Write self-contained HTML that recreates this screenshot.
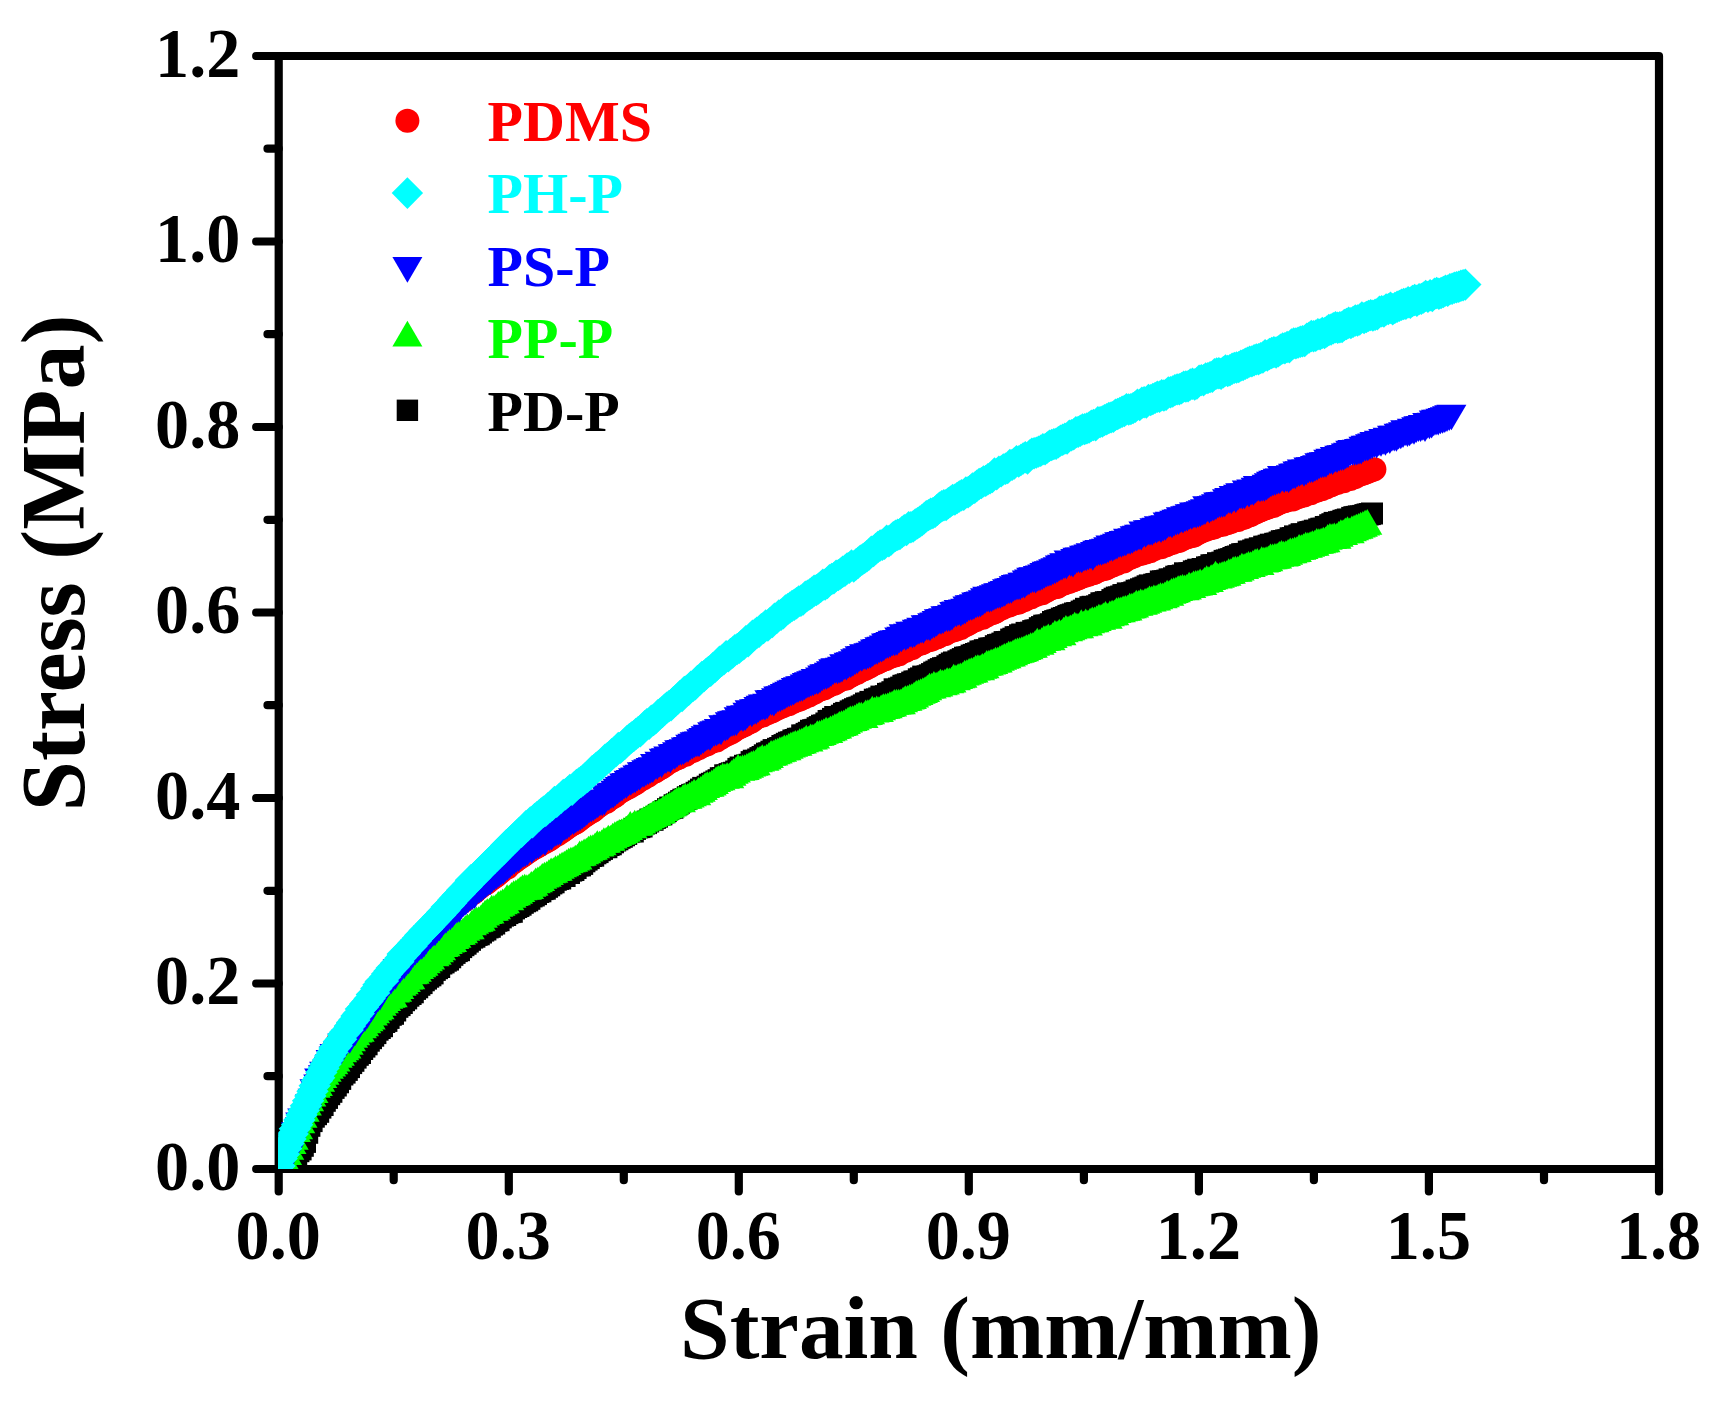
<!DOCTYPE html>
<html lang="en"><head><meta charset="utf-8"><title>Stress-strain curves</title>
<style>
html,body{margin:0;padding:0;background:#fff;}
body{width:1722px;height:1406px;overflow:hidden;}
svg{display:block;}
text{font-family:"Liberation Serif",serif;font-weight:bold;}
.tick{font-size:68.2px;fill:#000;}
.title{font-size:89.5px;fill:#000;}
.leg{font-size:58px;}
.ax{stroke:#000;stroke-width:8.2;stroke-linecap:round;stroke-linejoin:round;fill:none;}
</style></head><body>
<svg width="1722" height="1406" viewBox="0 0 1722 1406">
<rect width="1722" height="1406" fill="#fff"/>

<g class="ax">
<path d="M278.7 56.0H1659.0V1169.0H278.7Z"/>
<path d="M278.7 1169.0h-22.5M278.7 983.5h-22.5M278.7 798.0h-22.5M278.7 612.5h-22.5M278.7 427.0h-22.5M278.7 241.5h-22.5M278.7 56.0h-22.5M278.7 1076.2h-11.2M278.7 890.8h-11.2M278.7 705.2h-11.2M278.7 519.8h-11.2M278.7 334.2h-11.2M278.7 148.7h-11.2M278.7 1169.0v22.5M508.8 1169.0v22.5M738.8 1169.0v22.5M968.8 1169.0v22.5M1198.9 1169.0v22.5M1428.9 1169.0v22.5M1659.0 1169.0v22.5M393.7 1169.0v11.2M623.8 1169.0v11.2M853.8 1169.0v11.2M1083.9 1169.0v11.2M1313.9 1169.0v11.2M1544.0 1169.0v11.2"/>
</g>
<g class="tick">
<text transform="translate(240.3 1189.8) scale(1 1.03)" text-anchor="end">0.0</text>
<text transform="translate(240.3 1004.3) scale(1 1.03)" text-anchor="end">0.2</text>
<text transform="translate(240.3 818.8) scale(1 1.03)" text-anchor="end">0.4</text>
<text transform="translate(240.3 633.3) scale(1 1.03)" text-anchor="end">0.6</text>
<text transform="translate(240.3 447.8) scale(1 1.03)" text-anchor="end">0.8</text>
<text transform="translate(240.3 262.3) scale(1 1.03)" text-anchor="end">1.0</text>
<text transform="translate(240.3 76.8) scale(1 1.03)" text-anchor="end">1.2</text>
<text transform="translate(278.2 1259.3) scale(1 1.03)" text-anchor="middle">0.0</text>
<text transform="translate(508.2 1259.3) scale(1 1.03)" text-anchor="middle">0.3</text>
<text transform="translate(738.3 1259.3) scale(1 1.03)" text-anchor="middle">0.6</text>
<text transform="translate(968.3 1259.3) scale(1 1.03)" text-anchor="middle">0.9</text>
<text transform="translate(1198.4 1259.3) scale(1 1.03)" text-anchor="middle">1.2</text>
<text transform="translate(1428.4 1259.3) scale(1 1.03)" text-anchor="middle">1.5</text>
<text transform="translate(1658.5 1259.3) scale(1 1.03)" text-anchor="middle">1.8</text>
</g>
<text class="title" style="font-size:89.2px" x="1000.8" y="1357.7" text-anchor="middle">Strain (mm/mm)</text>
<text class="title" style="font-size:90.2px" transform="translate(83.5 562.8) rotate(-90)" text-anchor="middle">Stress (MPa)</text>
<defs>
<clipPath id="plotclip"><rect x="278.2" y="56.0" width="1380.8" height="1113.0"/></clipPath>
<marker id="m-red" markerUnits="userSpaceOnUse" markerWidth="40" markerHeight="40" refX="0" refY="0" viewBox="-20 -20 40 40" overflow="visible" fill="#ff0000"><circle r="12.0"/></marker>
<marker id="m-cyan" markerUnits="userSpaceOnUse" markerWidth="40" markerHeight="40" refX="0" refY="0" viewBox="-20 -20 40 40" overflow="visible" fill="#00ffff"><path d="M0 -16.2L16.2 0L0 16.2L-16.2 0Z"/></marker>
<marker id="m-blue" markerUnits="userSpaceOnUse" markerWidth="40" markerHeight="40" refX="0" refY="0" viewBox="-20 -20 40 40" overflow="visible" fill="#0000ff"><path d="M-15.0 -12.85H15.0L0 12.85Z"/></marker>
<marker id="m-green" markerUnits="userSpaceOnUse" markerWidth="40" markerHeight="40" refX="0" refY="0" viewBox="-20 -20 40 40" overflow="visible" fill="#00ff00"><path d="M-15.0 12.85H15.0L0 -12.85Z"/></marker>
<marker id="m-black" markerUnits="userSpaceOnUse" markerWidth="40" markerHeight="40" refX="0" refY="0" viewBox="-20 -20 40 40" overflow="visible" fill="#000000"><rect x="-11.0" y="-11.0" width="22.0" height="22.0"/></marker>
</defs>
<g clip-path="url(#plotclip)">
<polyline fill="none" stroke="none" marker-start="url(#m-black)" marker-mid="url(#m-black)" marker-end="url(#m-black)" points="285.2,1181.5 287.4,1175.1 289.6,1168.9 291.8,1163.3 294.0,1158.7 296.2,1154.1 298.4,1151.2 300.6,1149.4 302.8,1145.8 305.0,1141.9 307.2,1132.8 309.4,1125.8 311.6,1121.1 313.8,1116.7 316.0,1114.2 318.2,1111.8 320.4,1107.6 322.6,1105.0 324.8,1100.8 327.0,1097.9 329.2,1094.2 331.4,1091.8 333.6,1087.9 335.8,1085.5 338.0,1082.3 340.2,1078.9 342.4,1074.5 344.6,1072.6 346.8,1069.9 349.0,1067.1 351.2,1063.1 353.4,1060.8 355.6,1057.6 357.8,1054.8 360.0,1053.0 362.2,1049.0 364.4,1046.6 366.6,1044.3 368.8,1040.7 371.0,1038.2 373.2,1035.7 375.4,1033.1 377.6,1029.7 379.8,1028.0 382.0,1026.2 384.2,1022.0 386.4,1020.9 388.6,1017.9 390.8,1014.8 393.0,1013.8 395.2,1010.5 397.4,1006.8 399.6,1005.1 401.8,1003.0 404.0,1000.2 406.2,998.4 408.4,995.7 410.6,994.0 412.8,992.3 415.0,988.9 417.2,987.3 419.4,984.8 421.6,983.1 423.8,980.3 426.0,978.6 428.2,976.7 430.4,975.3 432.6,973.4 434.8,969.9 437.0,968.2 439.2,967.0 441.4,963.5 443.6,962.4 445.8,960.7 448.0,959.6 450.2,957.3 452.4,954.8 454.6,952.9 456.8,951.1 459.0,950.2 461.2,947.1 463.4,945.2 465.6,943.7 467.8,941.6 470.0,939.8 472.2,937.6 474.4,936.7 476.6,934.9 478.8,934.3 481.0,932.5 483.2,930.6 485.4,929.5 487.6,927.4 489.8,926.8 492.0,924.6 494.2,923.5 496.4,920.8 498.6,920.2 500.8,917.4 503.0,915.6 505.2,915.0 507.4,913.1 509.6,912.1 511.8,911.8 514.0,908.4 516.2,907.0 518.4,906.0 520.6,904.7 522.8,902.8 525.0,901.3 527.2,900.4 529.4,898.8 531.6,896.4 533.8,895.5 536.0,894.1 538.2,892.0 540.4,891.3 542.6,889.1 544.8,888.7 547.0,886.8 549.2,885.3 551.4,883.4 553.6,882.3 555.8,879.8 558.0,878.9 560.2,878.5 562.4,875.6 564.6,876.0 566.8,873.0 569.0,873.0 571.2,870.6 573.4,870.0 575.6,868.0 577.8,865.4 580.0,865.4 582.2,863.9 584.4,861.3 586.6,859.6 588.8,858.1 591.0,856.0 593.2,855.7 595.4,853.3 597.6,852.1 599.8,850.2 602.0,848.9 604.2,847.1 606.4,847.2 608.6,845.0 610.8,844.3 613.0,842.3 615.2,840.5 617.4,839.3 619.6,837.8 621.8,836.8 624.0,835.3 626.2,834.0 628.4,832.1 630.6,831.2 632.8,831.5 635.0,828.9 637.2,827.4 639.4,827.1 641.6,826.5 643.8,823.6 646.0,823.1 648.2,821.5 650.4,819.6 652.6,819.8 654.8,818.0 657.0,816.7 659.2,814.9 661.4,814.3 663.6,812.3 665.8,811.1 668.0,809.1 670.2,807.6 672.4,807.8 674.6,805.2 676.8,804.3 679.0,802.7 681.2,801.1 683.4,799.7 685.6,799.1 687.8,797.2 690.0,796.0 692.2,794.9 694.4,794.4 696.6,792.8 698.8,791.4 701.0,789.6 703.2,787.9 705.4,788.0 707.6,786.7 709.8,784.7 712.0,783.8 714.2,782.7 716.4,781.4 718.6,780.2 720.8,778.2 723.0,778.1 725.2,775.3 727.4,775.4 729.6,774.1 731.8,773.3 734.0,772.8 736.2,771.5 738.4,768.9 740.6,767.5 742.8,768.0 745.0,765.8 747.2,765.4 749.4,764.8 751.6,762.1 753.8,760.7 756.0,760.9 758.2,759.5 760.4,758.1 762.6,757.0 764.8,755.3 767.0,753.7 769.2,753.3 771.4,751.7 773.6,750.1 775.8,750.3 778.0,748.8 780.2,748.0 782.4,746.0 784.6,745.1 786.8,743.8 789.0,742.7 791.2,742.2 793.4,740.5 795.6,740.0 797.8,738.8 800.0,738.7 802.2,735.4 804.4,735.6 806.6,733.9 808.8,732.8 811.0,730.8 813.2,730.2 815.4,729.8 817.6,728.2 819.8,727.1 822.0,725.7 824.2,725.4 826.4,723.5 828.6,721.0 830.8,720.8 833.0,718.9 835.2,717.0 837.4,717.5 839.6,717.5 841.8,715.7 844.0,713.9 846.2,712.9 848.4,713.1 850.6,711.4 852.8,710.3 855.0,709.2 857.2,708.2 859.4,707.6 861.6,706.5 863.8,705.3 866.0,703.6 868.2,703.6 870.4,701.9 872.6,702.0 874.8,699.7 877.0,699.4 879.2,698.4 881.4,696.6 883.6,697.4 885.8,696.2 888.0,693.9 890.2,693.5 892.4,692.2 894.6,689.3 896.8,689.9 899.0,688.6 901.2,687.6 903.4,685.8 905.6,685.3 907.8,684.3 910.0,684.1 912.2,682.6 914.4,681.5 916.6,681.5 918.8,679.3 921.0,678.4 923.2,676.6 925.4,677.7 927.6,676.3 929.8,675.3 932.0,674.1 934.2,672.6 936.4,671.6 938.6,670.2 940.8,669.1 943.0,668.2 945.2,667.9 947.4,666.3 949.6,664.9 951.8,663.5 954.0,662.5 956.2,662.9 958.4,661.3 960.6,660.2 962.8,659.1 965.0,657.7 967.2,657.5 969.4,657.2 971.6,655.6 973.8,654.9 976.0,654.0 978.2,653.3 980.4,651.5 982.6,651.4 984.8,650.2 987.0,650.4 989.2,648.6 991.4,648.5 993.6,648.2 995.8,646.2 998.0,645.1 1000.2,644.7 1002.4,643.6 1004.6,642.1 1006.8,642.0 1009.0,641.9 1011.2,639.6 1013.4,638.7 1015.6,637.2 1017.8,637.1 1020.0,635.3 1022.2,634.5 1024.4,635.1 1026.6,632.9 1028.8,633.3 1031.0,632.7 1033.2,631.1 1035.4,630.5 1037.6,630.4 1039.8,628.2 1042.0,627.1 1044.2,625.7 1046.4,625.6 1048.6,625.5 1050.8,624.2 1053.0,622.0 1055.2,621.1 1057.4,620.4 1059.6,619.9 1061.8,618.6 1064.0,618.0 1066.2,617.1 1068.4,615.9 1070.6,615.2 1072.8,614.5 1075.0,613.5 1077.2,613.1 1079.4,613.1 1081.6,611.6 1083.8,610.6 1086.0,608.8 1088.2,609.3 1090.4,607.2 1092.6,606.8 1094.8,607.3 1097.0,606.4 1099.2,605.1 1101.4,603.3 1103.6,603.3 1105.8,602.2 1108.0,602.1 1110.2,602.2 1112.4,600.1 1114.6,598.7 1116.8,597.6 1119.0,597.4 1121.2,596.5 1123.4,595.1 1125.6,595.0 1127.8,593.4 1130.0,594.0 1132.2,593.2 1134.4,592.4 1136.6,590.7 1138.8,590.5 1141.0,589.3 1143.2,588.4 1145.4,587.6 1147.6,586.3 1149.8,585.4 1152.0,586.0 1154.2,584.7 1156.4,584.1 1158.6,583.9 1160.8,581.5 1163.0,581.4 1165.2,581.2 1167.4,580.6 1169.6,579.4 1171.8,579.6 1174.0,578.3 1176.2,576.7 1178.4,576.1 1180.6,576.4 1182.8,575.5 1185.0,573.3 1187.2,574.5 1189.4,573.4 1191.6,573.1 1193.8,571.4 1196.0,570.8 1198.2,569.7 1200.4,571.2 1202.6,569.0 1204.8,569.4 1207.0,567.4 1209.2,567.2 1211.4,565.3 1213.6,565.3 1215.8,565.4 1218.0,563.2 1220.2,563.8 1222.4,562.6 1224.6,560.9 1226.8,560.4 1229.0,559.6 1231.2,559.1 1233.4,558.0 1235.6,557.0 1237.8,556.5 1240.0,555.2 1242.2,554.2 1244.4,554.1 1246.6,553.9 1248.8,551.6 1251.0,551.7 1253.2,550.5 1255.4,549.5 1257.6,549.8 1259.8,548.3 1262.0,548.7 1264.2,546.7 1266.4,546.7 1268.6,545.7 1270.8,544.7 1273.0,544.9 1275.2,543.8 1277.4,543.6 1279.6,542.5 1281.8,541.2 1284.0,541.0 1286.2,540.4 1288.4,540.2 1290.6,538.3 1292.8,538.1 1295.0,536.4 1297.2,537.1 1299.4,535.4 1301.6,534.2 1303.8,534.6 1306.0,534.7 1308.2,532.5 1310.4,532.1 1312.6,531.6 1314.8,530.7 1317.0,530.9 1319.2,529.4 1321.4,528.7 1323.6,528.7 1325.8,527.0 1328.0,526.9 1330.2,525.2 1332.4,524.2 1334.6,522.9 1336.8,524.3 1339.0,522.2 1341.2,521.8 1343.4,520.8 1345.6,520.2 1347.8,519.5 1350.0,519.9 1352.2,517.9 1354.4,517.2 1356.6,516.9 1358.8,516.4 1361.0,516.5 1363.2,515.9 1365.4,515.1 1367.6,514.5 1369.8,514.1 1372.0,513.5"/>
<polyline fill="none" stroke="none" marker-start="url(#m-red)" marker-mid="url(#m-red)" marker-end="url(#m-red)" points="274.4,1185.8 276.6,1178.5 278.8,1173.1 281.0,1167.1 283.2,1160.3 285.4,1154.2 287.6,1148.7 289.8,1142.5 292.0,1138.3 294.2,1131.6 296.4,1126.9 298.6,1122.1 300.8,1116.8 303.0,1111.5 305.2,1106.2 307.4,1100.6 309.6,1095.9 311.8,1089.4 314.0,1085.3 316.2,1080.2 318.4,1076.0 320.6,1071.8 322.8,1067.1 325.0,1063.2 327.2,1059.9 329.4,1055.9 331.6,1051.8 333.8,1049.4 336.0,1046.0 338.2,1041.2 340.4,1038.7 342.6,1036.5 344.8,1032.7 347.0,1029.5 349.2,1026.4 351.4,1023.4 353.6,1020.6 355.8,1017.7 358.0,1015.4 360.2,1012.2 362.4,1009.3 364.6,1006.3 366.8,1003.9 369.0,1000.8 371.2,998.4 373.4,996.1 375.6,993.1 377.8,990.5 380.0,987.8 382.2,985.1 384.4,982.4 386.6,979.8 388.8,977.7 391.0,974.4 393.2,972.9 395.4,969.9 397.6,967.1 399.8,964.7 402.0,962.2 404.2,960.1 406.4,957.3 408.6,955.7 410.8,952.5 413.0,949.5 415.2,947.7 417.4,944.7 419.6,943.1 421.8,941.0 424.0,938.4 426.2,935.2 428.4,933.0 430.6,931.7 432.8,928.7 435.0,926.3 437.2,924.5 439.4,922.8 441.6,920.2 443.8,917.6 446.0,915.6 448.2,913.7 450.4,911.2 452.6,909.1 454.8,907.6 457.0,905.3 459.2,903.8 461.4,902.0 463.6,901.1 465.8,898.0 468.0,896.6 470.2,894.8 472.4,893.3 474.6,891.9 476.8,889.6 479.0,887.9 481.2,885.9 483.4,884.6 485.6,883.6 487.8,881.9 490.0,879.8 492.2,878.5 494.4,877.0 496.6,875.5 498.8,873.4 501.0,871.8 503.2,869.4 505.4,868.0 507.6,867.4 509.8,864.2 512.0,863.2 514.2,861.8 516.4,859.9 518.6,858.2 520.8,856.9 523.0,855.4 525.2,853.9 527.4,851.7 529.6,851.0 531.8,849.3 534.0,848.0 536.2,847.0 538.4,845.8 540.6,844.6 542.8,842.7 545.0,841.9 547.2,840.7 549.4,839.4 551.6,838.1 553.8,836.2 556.0,834.8 558.2,833.9 560.4,831.6 562.6,830.9 564.8,829.2 567.0,827.8 569.2,825.9 571.4,824.7 573.6,823.6 575.8,822.5 578.0,821.0 580.2,819.0 582.4,817.5 584.6,815.7 586.8,814.6 589.0,812.8 591.2,811.7 593.4,810.6 595.6,808.5 597.8,806.4 600.0,805.2 602.2,803.5 604.4,802.1 606.6,801.7 608.8,799.7 611.0,797.5 613.2,796.9 615.4,795.7 617.6,793.5 619.8,792.0 622.0,790.7 624.2,789.5 626.4,788.3 628.6,787.2 630.8,785.9 633.0,784.6 635.2,783.4 637.4,781.9 639.6,779.7 641.8,779.0 644.0,777.9 646.2,776.3 648.4,775.5 650.6,773.6 652.8,772.1 655.0,771.6 657.2,770.0 659.4,768.4 661.6,767.4 663.8,766.1 666.0,764.5 668.2,762.1 670.4,761.5 672.6,760.4 674.8,759.0 677.0,758.3 679.2,757.6 681.4,755.8 683.6,754.5 685.8,754.7 688.0,752.7 690.2,751.4 692.4,750.9 694.6,750.0 696.8,748.5 699.0,748.1 701.2,746.6 703.4,745.4 705.6,744.8 707.8,743.9 710.0,742.3 712.2,741.6 714.4,740.4 716.6,740.5 718.8,738.0 721.0,737.7 723.2,736.0 725.4,734.9 727.6,734.1 729.8,733.0 732.0,731.9 734.2,730.4 736.4,728.8 738.6,727.6 740.8,726.8 743.0,725.6 745.2,724.7 747.4,723.1 749.6,722.2 751.8,721.2 754.0,719.5 756.2,717.7 758.4,716.7 760.6,715.5 762.8,715.6 765.0,713.6 767.2,713.3 769.4,712.1 771.6,711.5 773.8,710.2 776.0,708.9 778.2,707.9 780.4,707.1 782.6,706.2 784.8,705.0 787.0,704.4 789.2,704.1 791.4,701.9 793.6,701.8 795.8,700.4 798.0,699.9 800.2,699.2 802.4,697.9 804.6,697.2 806.8,695.3 809.0,695.4 811.2,693.7 813.4,693.1 815.6,691.9 817.8,689.8 820.0,689.5 822.2,688.8 824.4,688.3 826.6,686.8 828.8,685.7 831.0,684.0 833.2,684.0 835.4,683.1 837.6,681.4 839.8,680.2 842.0,678.7 844.2,678.7 846.4,678.4 848.6,676.6 850.8,675.8 853.0,674.5 855.2,672.9 857.4,672.8 859.6,670.7 861.8,670.1 864.0,669.2 866.2,668.3 868.4,667.1 870.6,666.0 872.8,664.5 875.0,663.2 877.2,662.8 879.4,661.5 881.6,660.4 883.8,659.5 886.0,658.9 888.2,657.4 890.4,656.7 892.6,655.7 894.8,655.4 897.0,654.6 899.2,654.2 901.4,651.8 903.6,651.1 905.8,650.7 908.0,649.2 910.2,648.2 912.4,647.9 914.6,646.1 916.8,644.8 919.0,643.7 921.2,643.4 923.4,642.5 925.6,640.9 927.8,640.2 930.0,640.0 932.2,639.2 934.4,637.8 936.6,637.5 938.8,636.6 941.0,634.8 943.2,634.5 945.4,633.9 947.6,632.5 949.8,630.9 952.0,630.7 954.2,630.1 956.4,629.5 958.6,627.0 960.8,627.9 963.0,625.4 965.2,625.2 967.4,624.3 969.6,623.1 971.8,621.7 974.0,620.2 976.2,619.9 978.4,618.3 980.6,616.5 982.8,617.7 985.0,615.8 987.2,615.3 989.4,613.3 991.6,613.3 993.8,612.4 996.0,611.5 998.2,609.9 1000.4,608.6 1002.6,608.1 1004.8,606.4 1007.0,605.7 1009.2,605.5 1011.4,604.2 1013.6,603.7 1015.8,602.8 1018.0,602.8 1020.2,601.7 1022.4,600.3 1024.6,600.0 1026.8,598.3 1029.0,597.7 1031.2,597.3 1033.4,595.6 1035.6,595.1 1037.8,593.8 1040.0,593.5 1042.2,593.2 1044.4,591.3 1046.6,590.7 1048.8,589.3 1051.0,588.2 1053.2,587.2 1055.4,587.3 1057.6,586.7 1059.8,585.1 1062.0,583.7 1064.2,583.4 1066.4,582.2 1068.6,581.9 1070.8,581.0 1073.0,580.2 1075.2,579.6 1077.4,578.4 1079.6,577.7 1081.8,576.4 1084.0,576.1 1086.2,575.0 1088.4,574.7 1090.6,573.6 1092.8,573.2 1095.0,572.5 1097.2,570.9 1099.4,570.3 1101.6,569.3 1103.8,569.1 1106.0,568.6 1108.2,567.3 1110.4,565.9 1112.6,565.6 1114.8,563.5 1117.0,563.7 1119.2,561.9 1121.4,560.1 1123.6,561.4 1125.8,560.1 1128.0,558.1 1130.2,557.8 1132.4,556.8 1134.6,556.0 1136.8,554.6 1139.0,554.1 1141.2,553.7 1143.4,552.8 1145.6,552.4 1147.8,551.2 1150.0,551.3 1152.2,549.4 1154.4,549.0 1156.6,547.4 1158.8,547.0 1161.0,547.3 1163.2,545.6 1165.4,545.5 1167.6,544.5 1169.8,543.3 1172.0,542.9 1174.2,542.0 1176.4,541.2 1178.6,540.9 1180.8,540.1 1183.0,538.7 1185.2,537.7 1187.4,537.3 1189.6,536.3 1191.8,535.9 1194.0,535.6 1196.2,534.0 1198.4,532.8 1200.6,531.8 1202.8,530.7 1205.0,529.9 1207.2,529.0 1209.4,528.5 1211.6,527.7 1213.8,527.4 1216.0,526.1 1218.2,525.5 1220.4,524.3 1222.6,524.7 1224.8,523.5 1227.0,523.3 1229.2,522.2 1231.4,521.7 1233.6,520.3 1235.8,520.0 1238.0,520.1 1240.2,517.8 1242.4,518.0 1244.6,517.5 1246.8,516.1 1249.0,515.4 1251.2,514.8 1253.4,513.1 1255.6,512.6 1257.8,511.2 1260.0,510.4 1262.2,509.5 1264.4,508.7 1266.6,508.0 1268.8,507.2 1271.0,505.5 1273.2,506.0 1275.4,504.8 1277.6,503.8 1279.8,502.5 1282.0,501.8 1284.2,501.3 1286.4,500.5 1288.6,499.0 1290.8,499.2 1293.0,499.5 1295.2,496.8 1297.4,497.3 1299.6,496.4 1301.8,495.5 1304.0,495.4 1306.2,493.7 1308.4,493.5 1310.6,493.3 1312.8,491.8 1315.0,491.0 1317.2,490.4 1319.4,489.3 1321.6,489.3 1323.8,487.5 1326.0,487.4 1328.2,485.6 1330.4,485.6 1332.6,484.5 1334.8,482.7 1337.0,482.9 1339.2,481.8 1341.4,481.3 1343.6,481.3 1345.8,479.5 1348.0,478.8 1350.2,478.9 1352.4,477.6 1354.6,477.2 1356.8,476.0 1359.0,474.8 1361.2,474.1 1363.4,473.5 1365.6,472.6 1367.8,471.7 1370.0,470.8 1372.2,470.0 1374.4,469.2"/>
<polyline fill="none" stroke="none" marker-start="url(#m-green)" marker-mid="url(#m-green)" marker-end="url(#m-green)" points="280.5,1169.1 282.7,1163.3 284.9,1158.4 287.1,1152.1 289.3,1146.8 291.5,1141.1 293.7,1136.8 295.9,1129.2 298.1,1126.5 300.3,1120.4 302.5,1115.0 304.7,1108.8 306.9,1102.6 309.1,1098.4 311.3,1093.7 313.5,1090.2 315.7,1084.8 317.9,1083.1 320.1,1078.8 322.3,1075.1 324.5,1071.8 326.7,1068.9 328.9,1065.9 331.1,1063.7 333.3,1061.5 335.5,1058.7 337.7,1055.0 339.9,1052.9 342.1,1049.5 344.3,1047.3 346.5,1045.6 348.7,1041.9 350.9,1038.5 353.1,1034.9 355.3,1032.5 357.5,1029.7 359.7,1028.9 361.9,1025.4 364.1,1023.4 366.3,1020.4 368.5,1018.4 370.7,1016.7 372.9,1012.7 375.1,1010.5 377.3,1007.7 379.5,1006.5 381.7,1002.9 383.9,1000.5 386.1,998.1 388.3,995.9 390.5,995.0 392.7,994.3 394.9,989.6 397.1,988.8 399.3,986.1 401.5,983.0 403.7,981.4 405.9,979.2 408.1,976.7 410.3,976.4 412.5,971.5 414.7,971.0 416.9,968.8 419.1,966.1 421.3,964.5 423.5,962.9 425.7,960.3 427.9,958.4 430.1,956.6 432.3,952.8 434.5,953.3 436.7,952.0 438.9,949.3 441.1,947.5 443.3,944.1 445.5,943.3 447.7,941.1 449.9,939.6 452.1,939.1 454.3,936.2 456.5,935.0 458.7,932.2 460.9,931.8 463.1,930.3 465.3,928.0 467.5,926.3 469.7,926.4 471.9,922.5 474.1,920.9 476.3,919.3 478.5,919.0 480.7,917.9 482.9,915.0 485.1,912.6 487.3,911.2 489.5,910.6 491.7,907.7 493.9,907.8 496.1,906.3 498.3,903.9 500.5,902.8 502.7,901.4 504.9,900.5 507.1,897.2 509.3,897.4 511.5,894.8 513.7,893.2 515.9,892.4 518.1,890.9 520.3,889.1 522.5,887.4 524.7,886.6 526.9,887.0 529.1,886.1 531.3,883.9 533.5,883.0 535.7,880.4 537.9,879.4 540.1,878.2 542.3,875.9 544.5,874.6 546.7,873.9 548.9,872.2 551.1,870.3 553.3,870.0 555.5,868.2 557.7,867.9 559.9,865.9 562.1,864.5 564.3,863.5 566.5,862.1 568.7,860.5 570.9,859.5 573.1,859.0 575.3,857.6 577.5,856.7 579.7,853.3 581.9,852.8 584.1,851.4 586.3,850.5 588.5,848.7 590.7,847.4 592.9,847.0 595.1,845.3 597.3,843.2 599.5,843.7 601.7,842.3 603.9,840.0 606.1,839.9 608.3,837.6 610.5,837.8 612.7,835.7 614.9,834.1 617.1,833.2 619.3,831.8 621.5,831.3 623.7,830.1 625.9,828.8 628.1,827.2 630.3,823.8 632.5,825.3 634.7,822.7 636.9,823.0 639.1,822.4 641.3,820.7 643.5,819.0 645.7,818.0 647.9,816.9 650.1,815.4 652.3,814.2 654.5,812.7 656.7,813.0 658.9,810.9 661.1,810.3 663.3,808.1 665.5,807.0 667.7,805.5 669.9,804.6 672.1,803.5 674.3,801.9 676.5,800.0 678.7,798.8 680.9,799.3 683.1,796.9 685.3,795.8 687.5,796.0 689.7,794.7 691.9,793.3 694.1,791.6 696.3,792.4 698.5,789.9 700.7,788.9 702.9,787.2 705.1,785.1 707.3,784.0 709.5,784.0 711.7,782.7 713.9,781.1 716.1,779.2 718.3,777.8 720.5,777.4 722.7,775.5 724.9,776.0 727.1,775.1 729.3,775.3 731.5,772.9 733.7,770.9 735.9,769.7 738.1,766.9 740.3,768.0 742.5,767.3 744.7,767.2 746.9,765.9 749.1,764.9 751.3,763.6 753.5,762.8 755.7,762.3 757.9,759.4 760.1,758.7 762.3,757.0 764.5,758.0 766.7,756.6 768.9,755.2 771.1,752.8 773.3,752.7 775.5,751.4 777.7,750.6 779.9,749.4 782.1,748.9 784.3,747.4 786.5,747.3 788.7,745.9 790.9,744.7 793.1,743.9 795.3,742.8 797.5,742.8 799.7,741.2 801.9,740.7 804.1,739.4 806.3,737.7 808.5,738.6 810.7,736.3 812.9,736.7 815.1,735.6 817.3,733.2 819.5,732.8 821.7,732.2 823.9,731.0 826.1,729.7 828.3,730.1 830.5,728.3 832.7,727.7 834.9,726.1 837.1,725.6 839.3,723.8 841.5,723.2 843.7,722.6 845.9,721.1 848.1,719.7 850.3,718.3 852.5,718.2 854.7,717.3 856.9,715.9 859.1,714.7 861.3,714.7 863.5,715.2 865.7,712.4 867.9,712.1 870.1,711.4 872.3,708.6 874.5,709.7 876.7,708.4 878.9,709.2 881.1,707.3 883.3,706.2 885.5,705.9 887.7,705.4 889.9,704.1 892.1,703.6 894.3,701.8 896.5,701.7 898.7,701.5 900.9,701.4 903.1,699.5 905.3,698.2 907.5,697.9 909.7,696.7 911.9,696.2 914.1,694.7 916.3,692.8 918.5,692.1 920.7,691.0 922.9,690.1 925.1,689.1 927.3,687.5 929.5,685.6 931.7,685.7 933.9,683.9 936.1,684.5 938.3,683.6 940.5,681.6 942.7,682.4 944.9,681.6 947.1,680.2 949.3,680.4 951.5,679.7 953.7,676.7 955.9,677.4 958.1,676.1 960.3,675.3 962.5,674.8 964.7,672.7 966.9,672.0 969.1,670.9 971.3,670.0 973.5,669.6 975.7,667.7 977.9,667.1 980.1,667.3 982.3,665.9 984.5,665.3 986.7,662.8 988.9,662.6 991.1,661.7 993.3,661.2 995.5,659.7 997.7,659.7 999.9,658.0 1002.1,657.0 1004.3,655.9 1006.5,655.4 1008.7,653.6 1010.9,653.7 1013.1,652.4 1015.3,651.2 1017.5,650.3 1019.7,649.8 1021.9,649.2 1024.1,648.3 1026.3,647.1 1028.5,646.5 1030.7,645.0 1032.9,644.9 1035.1,643.0 1037.3,640.6 1039.5,641.9 1041.7,640.1 1043.9,638.1 1046.1,637.8 1048.3,636.3 1050.5,637.3 1052.7,635.2 1054.9,632.8 1057.1,633.3 1059.3,631.7 1061.5,632.4 1063.7,629.5 1065.9,627.8 1068.1,628.5 1070.3,627.4 1072.5,626.5 1074.7,624.5 1076.9,625.5 1079.1,625.5 1081.3,622.1 1083.5,623.5 1085.7,621.4 1087.9,622.6 1090.1,620.5 1092.3,619.3 1094.5,619.4 1096.7,618.2 1098.9,616.7 1101.1,616.9 1103.3,615.4 1105.5,613.8 1107.7,615.8 1109.9,613.4 1112.1,612.5 1114.3,612.4 1116.5,610.2 1118.7,609.5 1120.9,609.3 1123.1,608.4 1125.3,607.9 1127.5,607.7 1129.7,605.7 1131.9,605.5 1134.1,604.7 1136.3,602.7 1138.5,602.9 1140.7,601.3 1142.9,602.0 1145.1,600.9 1147.3,600.0 1149.5,598.4 1151.7,598.7 1153.9,597.4 1156.1,597.7 1158.3,596.3 1160.5,595.0 1162.7,595.3 1164.9,594.3 1167.1,592.5 1169.3,592.8 1171.5,590.9 1173.7,590.1 1175.9,589.5 1178.1,588.1 1180.3,587.5 1182.5,586.9 1184.7,587.3 1186.9,586.6 1189.1,584.6 1191.3,585.2 1193.5,583.3 1195.7,582.9 1197.9,582.6 1200.1,581.4 1202.3,582.2 1204.5,579.9 1206.7,578.1 1208.9,579.1 1211.1,577.1 1213.3,576.4 1215.5,573.7 1217.7,575.7 1219.9,574.8 1222.1,574.0 1224.3,573.3 1226.5,573.0 1228.7,571.1 1230.9,571.0 1233.1,569.0 1235.3,568.6 1237.5,568.8 1239.7,567.6 1241.9,565.6 1244.1,566.1 1246.3,565.0 1248.5,563.9 1250.7,564.1 1252.9,562.8 1255.1,561.3 1257.3,560.9 1259.5,562.2 1261.7,559.2 1263.9,559.7 1266.1,559.2 1268.3,558.4 1270.5,556.4 1272.7,556.3 1274.9,555.9 1277.1,555.6 1279.3,553.9 1281.5,552.9 1283.7,553.7 1285.9,553.1 1288.1,551.8 1290.3,550.4 1292.5,550.4 1294.7,549.4 1296.9,549.1 1299.1,546.9 1301.3,547.0 1303.5,546.1 1305.7,544.7 1307.9,544.9 1310.1,544.0 1312.3,543.0 1314.5,542.8 1316.7,540.8 1318.9,541.0 1321.1,540.5 1323.3,539.6 1325.5,539.3 1327.7,536.8 1329.9,535.8 1332.1,536.1 1334.3,535.4 1336.5,535.8 1338.7,533.9 1340.9,532.0 1343.1,532.2 1345.3,530.3 1347.5,529.2 1349.7,530.3 1351.9,528.3 1354.1,527.5 1356.3,526.5 1358.5,525.9 1360.7,524.6 1362.9,523.8 1365.1,522.7 1367.3,521.9"/>
<polyline fill="none" stroke="none" marker-start="url(#m-blue)" marker-mid="url(#m-blue)" marker-end="url(#m-blue)" points="275.6,1186.8 276.9,1181.1 279.8,1174.8 283.0,1167.0 285.7,1162.5 288.9,1157.1 290.7,1151.2 293.4,1145.1 294.8,1141.5 295.8,1135.2 299.9,1130.0 300.2,1125.3 302.2,1121.4 307.0,1117.4 308.3,1112.8 309.8,1107.4 312.6,1101.7 315.0,1097.2 314.5,1092.0 318.2,1087.4 319.1,1081.3 322.9,1078.1 324.1,1074.5 328.8,1070.2 330.0,1067.2 330.6,1062.9 333.7,1059.4 334.5,1056.9 338.2,1055.1 341.0,1052.0 342.8,1048.0 342.4,1046.3 346.5,1042.3 349.7,1040.8 351.7,1037.2 354.8,1033.7 354.4,1031.7 358.4,1027.7 359.6,1024.5 362.5,1021.1 364.9,1019.2 367.3,1015.9 368.6,1012.7 371.3,1009.3 372.7,1007.4 374.9,1002.9 378.0,999.4 380.0,997.6 381.7,994.5 384.2,990.5 386.6,986.0 388.9,983.7 391.0,981.6 393.2,978.4 395.4,976.8 397.6,972.1 399.8,971.0 402.0,967.6 404.2,966.5 406.4,963.1 408.6,961.4 410.8,957.8 413.0,954.9 415.2,952.6 417.4,950.5 419.6,947.8 421.8,947.0 424.0,944.7 426.2,941.6 428.4,938.3 430.6,936.7 432.8,934.1 435.0,933.4 437.2,930.4 439.4,928.3 441.6,925.5 443.8,922.2 446.0,920.9 448.2,918.5 450.4,917.4 452.6,915.1 454.8,912.4 457.0,910.6 459.2,909.9 461.4,906.1 463.6,904.1 465.8,902.6 468.0,900.3 470.2,898.5 472.4,897.2 474.6,896.1 476.8,891.7 479.0,891.0 481.2,889.2 483.4,887.2 485.6,885.3 487.8,883.3 490.0,882.4 492.2,879.6 494.4,878.0 496.6,876.3 498.8,874.6 501.0,872.6 503.2,871.7 505.4,869.2 507.6,867.6 509.8,865.7 512.0,863.3 514.2,861.8 516.4,860.0 518.6,859.2 520.8,857.0 523.0,855.1 525.2,854.5 527.4,853.1 529.6,850.0 531.8,850.9 534.0,848.3 536.2,846.8 538.4,846.2 540.6,844.1 542.8,842.2 545.0,842.8 547.2,839.1 549.4,838.4 551.6,837.6 553.8,834.8 556.0,834.0 558.2,832.9 560.4,832.7 562.6,828.9 564.8,827.9 567.0,826.9 569.2,824.9 571.4,822.5 573.6,822.1 575.8,820.3 578.0,819.1 580.2,818.1 582.4,816.5 584.6,814.6 586.8,813.0 589.0,810.6 591.2,809.7 593.4,808.5 595.6,806.6 597.8,805.4 600.0,803.3 602.2,803.4 604.4,802.3 606.6,799.1 608.8,798.1 611.0,796.1 613.2,795.6 615.4,793.5 617.6,791.7 619.8,789.9 622.0,788.6 624.2,786.3 626.4,785.9 628.6,783.5 630.8,782.9 633.0,781.2 635.2,780.4 637.4,778.3 639.6,777.7 641.8,775.1 644.0,774.9 646.2,773.1 648.4,772.2 650.6,770.8 652.8,770.2 655.0,766.8 657.2,767.2 659.4,764.6 661.6,765.2 663.8,761.7 666.0,761.1 668.2,759.4 670.4,760.4 672.6,757.1 674.8,756.9 677.0,755.1 679.2,753.0 681.4,752.8 683.6,752.2 685.8,750.4 688.0,749.9 690.2,747.7 692.4,746.7 694.6,745.2 696.8,744.5 699.0,744.4 701.2,742.1 703.4,740.8 705.6,739.0 707.8,737.7 710.0,738.1 712.2,735.1 714.4,734.0 716.6,733.3 718.8,731.9 721.0,732.3 723.2,728.0 725.4,728.6 727.6,727.6 729.8,725.1 732.0,724.1 734.2,723.6 736.4,723.2 738.6,720.2 740.8,718.5 743.0,719.1 745.2,718.2 747.4,715.7 749.6,713.2 751.8,714.5 754.0,712.2 756.2,711.9 758.4,709.9 760.6,708.5 762.8,707.4 765.0,707.6 767.2,706.5 769.4,703.0 771.6,702.8 773.8,703.6 776.0,701.1 778.2,699.3 780.4,699.2 782.6,698.0 784.8,696.9 787.0,695.5 789.2,694.5 791.4,693.3 793.6,692.7 795.8,690.8 798.0,690.1 800.2,689.1 802.4,689.0 804.6,687.3 806.8,685.8 809.0,685.2 811.2,684.0 813.4,683.4 815.6,681.9 817.8,681.8 820.0,680.4 822.2,678.4 824.4,677.1 826.6,677.0 828.8,675.7 831.0,674.2 833.2,672.2 835.4,671.0 837.6,671.5 839.8,670.7 842.0,669.7 844.2,667.2 846.4,667.7 848.6,665.5 850.8,665.1 853.0,664.0 855.2,662.1 857.4,661.1 859.6,659.0 861.8,658.8 864.0,657.1 866.2,657.5 868.4,656.2 870.6,655.6 872.8,654.1 875.0,652.3 877.2,651.8 879.4,650.2 881.6,649.7 883.8,648.3 886.0,646.3 888.2,645.9 890.4,644.8 892.6,643.5 894.8,643.3 897.0,642.9 899.2,640.4 901.4,639.5 903.6,637.2 905.8,637.8 908.0,636.7 910.2,634.6 912.4,635.4 914.6,634.6 916.8,632.7 919.0,632.0 921.2,630.6 923.4,630.8 925.6,628.2 927.8,628.0 930.0,628.5 932.2,626.1 934.4,625.3 936.6,623.8 938.8,622.0 941.0,621.8 943.2,621.1 945.4,619.1 947.6,619.1 949.8,618.8 952.0,617.7 954.2,614.9 956.4,614.3 958.6,612.9 960.8,613.8 963.0,612.4 965.2,611.5 967.4,609.4 969.6,608.1 971.8,608.0 974.0,607.0 976.2,605.3 978.4,604.9 980.6,604.3 982.8,603.0 985.0,601.2 987.2,599.5 989.4,599.9 991.6,599.2 993.8,598.0 996.0,597.0 998.2,596.0 1000.4,596.0 1002.6,594.6 1004.8,593.8 1007.0,592.0 1009.2,591.3 1011.4,590.9 1013.6,589.0 1015.8,587.8 1018.0,587.4 1020.2,587.4 1022.4,585.7 1024.6,585.6 1026.8,583.4 1029.0,582.3 1031.2,580.6 1033.4,580.2 1035.6,580.7 1037.8,578.9 1040.0,578.3 1042.2,577.3 1044.4,575.9 1046.6,574.7 1048.8,574.0 1051.0,573.4 1053.2,572.2 1055.4,571.2 1057.6,570.0 1059.8,568.3 1062.0,567.6 1064.2,566.1 1066.4,566.5 1068.6,563.4 1070.8,563.8 1073.0,564.7 1075.2,561.9 1077.4,560.5 1079.6,560.4 1081.8,560.5 1084.0,558.7 1086.2,558.4 1088.4,557.3 1090.6,556.1 1092.8,557.8 1095.0,554.9 1097.2,553.7 1099.4,552.9 1101.6,552.8 1103.8,552.0 1106.0,551.5 1108.2,550.2 1110.4,548.3 1112.6,548.9 1114.8,547.5 1117.0,546.7 1119.2,545.0 1121.4,544.8 1123.6,543.9 1125.8,543.5 1128.0,541.6 1130.2,541.8 1132.4,541.0 1134.6,539.2 1136.8,538.6 1139.0,537.5 1141.2,537.7 1143.4,534.4 1145.6,534.9 1147.8,533.0 1150.0,533.0 1152.2,532.9 1154.4,531.0 1156.6,530.6 1158.8,529.1 1161.0,530.2 1163.2,528.7 1165.4,528.0 1167.6,525.4 1169.8,524.7 1172.0,525.4 1174.2,523.6 1176.4,522.7 1178.6,522.2 1180.8,520.1 1183.0,520.6 1185.2,519.2 1187.4,518.6 1189.6,517.0 1191.8,517.0 1194.0,515.3 1196.2,515.7 1198.4,515.0 1200.6,514.1 1202.8,513.0 1205.0,512.2 1207.2,509.1 1209.4,510.7 1211.6,509.0 1213.8,508.3 1216.0,507.2 1218.2,505.4 1220.4,505.1 1222.6,504.9 1224.8,504.5 1227.0,502.0 1229.2,500.8 1231.4,501.5 1233.6,498.9 1235.8,500.1 1238.0,497.7 1240.2,496.2 1242.4,496.7 1244.6,496.3 1246.8,493.3 1249.0,494.6 1251.2,492.4 1253.4,492.8 1255.6,490.6 1257.8,488.9 1260.0,489.5 1262.2,488.8 1264.4,488.8 1266.6,487.6 1268.8,486.0 1271.0,484.5 1273.2,483.5 1275.4,482.9 1277.6,481.7 1279.8,481.3 1282.0,478.9 1284.2,480.1 1286.4,479.1 1288.6,480.2 1290.8,478.1 1293.0,476.5 1295.2,476.4 1297.4,474.4 1299.6,474.0 1301.8,472.3 1304.0,473.8 1306.2,472.3 1308.4,470.3 1310.6,470.2 1312.8,470.1 1315.0,468.9 1317.2,468.0 1319.4,466.2 1321.6,465.5 1323.8,465.1 1326.0,464.8 1328.2,462.6 1330.4,461.5 1332.6,462.2 1334.8,459.8 1337.0,460.2 1339.2,458.7 1341.4,458.2 1343.6,457.9 1345.8,456.3 1348.0,455.5 1350.2,453.5 1352.4,452.8 1354.6,452.9 1356.8,452.7 1359.0,451.8 1361.2,451.7 1363.4,449.5 1365.6,448.7 1367.8,448.5 1370.0,447.1 1372.2,446.3 1374.4,444.9 1376.6,445.6 1378.8,443.5 1381.0,443.9 1383.2,441.8 1385.4,442.8 1387.6,440.6 1389.8,441.1 1392.0,438.6 1394.2,438.6 1396.4,438.9 1398.6,436.7 1400.8,436.4 1403.0,435.2 1405.2,433.1 1407.4,434.1 1409.6,433.4 1411.8,431.5 1414.0,431.8 1416.2,430.1 1418.4,429.2 1420.6,429.2 1422.8,427.9 1425.0,429.2 1427.2,425.8 1429.4,426.4 1431.6,425.6 1433.8,423.3 1436.0,422.7 1438.2,422.7 1440.4,421.5 1442.6,420.9 1444.8,420.1 1447.0,419.1 1449.2,418.2 1451.4,417.5"/>
<polyline fill="none" stroke="none" marker-start="url(#m-cyan)" marker-mid="url(#m-cyan)" marker-end="url(#m-cyan)" points="275.1,1178.1 277.3,1172.7 279.5,1165.9 281.7,1158.6 283.9,1154.3 286.1,1148.4 288.3,1143.4 290.5,1139.1 292.7,1133.9 294.9,1128.7 297.1,1124.8 299.3,1119.9 301.5,1115.0 303.7,1110.5 305.9,1105.8 308.1,1100.8 310.3,1095.9 312.5,1091.3 314.7,1085.8 316.9,1080.8 319.1,1077.8 321.3,1072.4 323.5,1068.2 325.7,1063.9 327.9,1059.9 330.1,1055.9 332.3,1052.2 334.5,1048.1 336.7,1045.7 338.9,1041.4 341.1,1039.3 343.3,1034.4 345.5,1031.8 347.7,1029.9 349.9,1026.0 352.1,1022.6 354.3,1020.1 356.5,1016.1 358.7,1013.6 360.9,1009.1 363.1,1007.1 365.3,1003.8 367.5,1001.4 369.7,998.6 371.9,994.5 374.1,992.9 376.3,988.6 378.5,984.7 380.7,981.6 382.9,981.0 385.1,977.1 387.3,973.8 389.5,970.9 391.7,967.9 393.9,966.7 396.1,963.2 398.3,961.7 400.5,957.9 402.7,954.0 404.9,953.4 407.1,950.1 409.3,947.7 411.5,946.3 413.7,942.7 415.9,941.1 418.1,938.0 420.3,935.2 422.5,933.5 424.7,930.5 426.9,929.3 429.1,926.8 431.3,924.0 433.5,922.1 435.7,919.7 437.9,916.9 440.1,915.3 442.3,912.3 444.5,910.5 446.7,907.1 448.9,905.4 451.1,903.1 453.3,900.0 455.5,897.7 457.7,895.2 459.9,893.5 462.1,890.3 464.3,888.6 466.5,886.8 468.7,883.8 470.9,880.3 473.1,879.1 475.3,877.4 477.5,874.4 479.7,873.0 481.9,870.5 484.1,868.2 486.3,865.7 488.5,863.4 490.7,861.4 492.9,859.4 495.1,857.5 497.3,855.3 499.5,852.7 501.7,850.7 503.9,848.7 506.1,845.4 508.3,843.7 510.5,841.5 512.7,839.7 514.9,837.5 517.1,835.4 519.3,832.9 521.5,831.8 523.7,829.4 525.9,826.2 528.1,825.2 530.3,822.5 532.5,822.3 534.7,819.0 536.9,817.1 539.1,815.5 541.3,813.4 543.5,811.7 545.7,810.8 547.9,808.2 550.1,806.7 552.3,805.1 554.5,802.0 556.7,801.8 558.9,799.4 561.1,797.8 563.3,795.0 565.5,794.2 567.7,792.2 569.9,789.9 572.1,789.9 574.3,787.1 576.5,784.9 578.7,783.4 580.9,782.0 583.1,780.4 585.3,778.2 587.5,776.7 589.7,774.9 591.9,771.4 594.1,769.9 596.3,767.6 598.5,766.3 600.7,765.1 602.9,762.6 605.1,759.6 607.3,758.2 609.5,757.0 611.7,754.2 613.9,752.6 616.1,751.0 618.3,747.9 620.5,747.7 622.7,745.6 624.9,743.8 627.1,741.0 629.3,739.3 631.5,737.5 633.7,736.1 635.9,734.0 638.1,732.2 640.3,731.3 642.5,729.1 644.7,726.1 646.9,724.3 649.1,723.9 651.3,720.8 653.5,720.0 655.7,718.4 657.9,715.3 660.1,713.6 662.3,712.0 664.5,709.7 666.7,707.8 668.9,706.3 671.1,705.2 673.3,702.5 675.5,700.8 677.7,698.8 679.9,696.3 682.1,696.1 684.3,691.9 686.5,691.0 688.7,689.7 690.9,686.6 693.1,685.9 695.3,684.3 697.5,681.0 699.7,679.7 701.9,677.0 704.1,676.0 706.3,673.8 708.5,671.9 710.7,670.7 712.9,668.2 715.1,666.9 717.3,664.6 719.5,661.7 721.7,660.8 723.9,659.2 726.1,656.3 728.3,656.4 730.5,654.0 732.7,652.5 734.9,650.2 737.1,649.1 739.3,647.7 741.5,645.6 743.7,644.2 745.9,641.1 748.1,641.4 750.3,638.2 752.5,635.7 754.7,634.6 756.9,632.8 759.1,631.8 761.3,629.1 763.5,628.0 765.7,625.5 767.9,625.6 770.1,622.9 772.3,622.0 774.5,618.6 776.7,618.0 778.9,615.4 781.1,614.7 783.3,613.3 785.5,610.4 787.7,609.1 789.9,607.6 792.1,605.9 794.3,604.8 796.5,603.2 798.7,601.4 800.9,600.7 803.1,599.5 805.3,596.8 807.5,595.6 809.7,594.4 811.9,592.7 814.1,590.8 816.3,590.1 818.5,588.6 820.7,586.9 822.9,584.8 825.1,584.6 827.3,583.0 829.5,580.2 831.7,579.0 833.9,578.3 836.1,575.8 838.3,575.1 840.5,573.6 842.7,571.8 844.9,570.7 847.1,568.5 849.3,567.8 851.5,565.4 853.7,566.5 855.9,564.5 858.1,562.8 860.3,560.6 862.5,559.4 864.7,557.9 866.9,556.2 869.1,554.5 871.3,551.8 873.5,551.1 875.7,548.9 877.9,547.0 880.1,545.5 882.3,544.9 884.5,543.7 886.7,540.8 888.9,541.2 891.1,539.6 893.3,537.1 895.5,535.7 897.7,534.7 899.9,534.1 902.1,532.0 904.3,530.3 906.5,530.0 908.7,527.2 910.9,527.2 913.1,526.5 915.3,524.5 917.5,523.3 919.7,521.7 921.9,520.3 924.1,518.4 926.3,516.3 928.5,515.1 930.7,513.7 932.9,513.1 935.1,511.9 937.3,509.7 939.5,507.7 941.7,506.3 943.9,505.3 946.1,505.0 948.3,503.1 950.5,501.6 952.7,499.9 954.9,499.6 957.1,498.0 959.3,496.5 961.5,495.3 963.7,494.9 965.9,492.4 968.1,492.2 970.3,490.6 972.5,488.5 974.7,487.7 976.9,485.8 979.1,484.0 981.3,483.1 983.5,481.4 985.7,480.9 987.9,479.3 990.1,478.3 992.3,477.1 994.5,473.4 996.7,474.2 998.9,471.6 1001.1,471.4 1003.3,469.4 1005.5,468.7 1007.7,468.1 1009.9,465.0 1012.1,464.9 1014.3,463.5 1016.5,461.1 1018.7,461.5 1020.9,460.0 1023.1,458.5 1025.3,457.3 1027.5,458.6 1029.7,455.5 1031.9,453.6 1034.1,453.2 1036.3,452.6 1038.5,451.6 1040.7,450.8 1042.9,449.2 1045.1,449.2 1047.3,447.5 1049.5,445.8 1051.7,445.0 1053.9,444.1 1056.1,443.7 1058.3,442.3 1060.5,440.6 1062.7,439.7 1064.9,438.6 1067.1,438.5 1069.3,435.8 1071.5,435.3 1073.7,434.4 1075.9,432.3 1078.1,431.9 1080.3,430.8 1082.5,429.4 1084.7,429.1 1086.9,428.4 1089.1,427.5 1091.3,425.7 1093.5,425.0 1095.7,425.4 1097.9,422.3 1100.1,422.1 1102.3,421.5 1104.5,420.1 1106.7,419.3 1108.9,418.0 1111.1,417.4 1113.3,416.7 1115.5,414.8 1117.7,414.0 1119.9,412.9 1122.1,411.7 1124.3,411.0 1126.5,409.3 1128.7,409.5 1130.9,409.1 1133.1,408.1 1135.3,406.9 1137.5,404.6 1139.7,405.1 1141.9,402.8 1144.1,402.3 1146.3,402.5 1148.5,399.9 1150.7,400.1 1152.9,399.0 1155.1,397.9 1157.3,396.7 1159.5,396.7 1161.7,395.3 1163.9,395.5 1166.1,394.8 1168.3,392.4 1170.5,392.2 1172.7,391.5 1174.9,390.1 1177.1,389.4 1179.3,389.3 1181.5,388.3 1183.7,386.6 1185.9,386.5 1188.1,386.3 1190.3,384.5 1192.5,383.8 1194.7,384.5 1196.9,383.5 1199.1,380.8 1201.3,380.1 1203.5,380.3 1205.7,378.4 1207.9,378.1 1210.1,377.1 1212.3,376.9 1214.5,374.2 1216.7,373.5 1218.9,373.3 1221.1,373.8 1223.3,372.3 1225.5,370.5 1227.7,371.0 1229.9,370.3 1232.1,368.8 1234.3,367.9 1236.5,367.5 1238.7,367.1 1240.9,365.6 1243.1,365.0 1245.3,363.8 1247.5,362.7 1249.7,361.6 1251.9,361.4 1254.1,360.2 1256.3,359.4 1258.5,359.3 1260.7,358.1 1262.9,357.5 1265.1,355.2 1267.3,355.6 1269.5,354.0 1271.7,353.0 1273.9,352.1 1276.1,352.5 1278.3,351.4 1280.5,349.6 1282.7,348.4 1284.9,348.2 1287.1,347.0 1289.3,347.3 1291.5,344.5 1293.7,343.4 1295.9,343.4 1298.1,342.6 1300.3,341.7 1302.5,341.2 1304.7,341.0 1306.9,338.6 1309.1,337.6 1311.3,336.0 1313.5,336.3 1315.7,335.8 1317.9,334.3 1320.1,334.4 1322.3,332.9 1324.5,333.1 1326.7,331.6 1328.9,330.0 1331.1,329.5 1333.3,328.2 1335.5,327.3 1337.7,327.7 1339.9,327.2 1342.1,327.0 1344.3,325.0 1346.5,324.0 1348.7,322.7 1350.9,323.1 1353.1,321.9 1355.3,320.5 1357.5,320.5 1359.7,319.6 1361.9,317.4 1364.1,318.1 1366.3,317.0 1368.5,315.9 1370.7,315.1 1372.9,315.6 1375.1,314.7 1377.3,314.2 1379.5,311.7 1381.7,311.3 1383.9,311.5 1386.1,309.5 1388.3,309.1 1390.5,307.7 1392.7,309.2 1394.9,307.9 1397.1,306.8 1399.3,305.9 1401.5,304.8 1403.7,304.0 1405.9,303.8 1408.1,302.3 1410.3,302.7 1412.5,301.0 1414.7,300.0 1416.9,300.7 1419.1,299.1 1421.3,298.9 1423.5,297.6 1425.7,295.9 1427.9,296.9 1430.1,295.2 1432.3,296.0 1434.5,293.8 1436.7,293.0 1438.9,293.7 1441.1,293.0 1443.3,292.0 1445.5,290.6 1447.7,290.7 1449.9,289.1 1452.1,288.7 1454.3,287.8 1456.5,287.2 1458.7,286.7 1460.9,285.8 1463.1,285.3 1465.3,284.6"/>
</g>
<g class="leg">
<g transform="translate(407.4 120.7)" fill="#ff0000"><circle r="12"/></g>
<text x="487.6" y="141.0" fill="#ff0000">PDMS</text>
<g transform="translate(407.4 193.1)" fill="#00ffff"><path d="M0 -15.8L15.7 0L0 15.8L-15.7 0Z"/></g>
<text x="487.6" y="213.4" fill="#00ffff">PH-P</text>
<g transform="translate(407.4 269.8)" fill="#0000ff"><path d="M-15 -12.85H15L0 12.85Z"/></g>
<text x="487.6" y="285.8" fill="#0000ff">PS-P</text>
<g transform="translate(407.4 333.6)" fill="#00ff00"><path d="M-15 12.85H15L0 -12.85Z"/></g>
<text x="487.6" y="358.2" fill="#00ff00">PP-P</text>
<g transform="translate(407.4 410.3)" fill="#000000"><rect x="-10.7" y="-10.7" width="21.4" height="21.4"/></g>
<text x="487.6" y="430.6" fill="#000000">PD-P</text>
</g>
</svg>
</body></html>
